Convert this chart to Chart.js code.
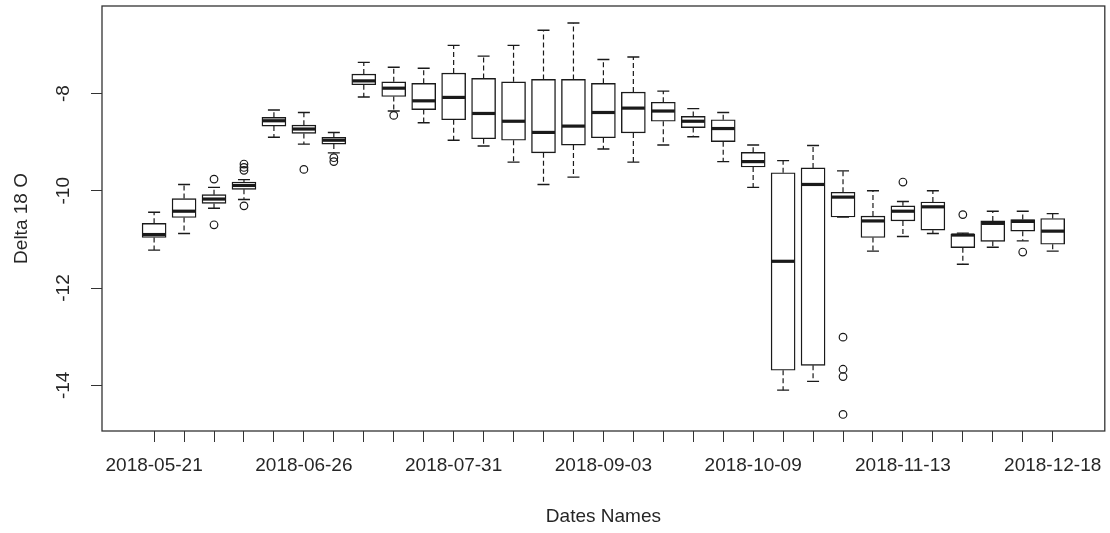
<!DOCTYPE html>
<html>
<head>
<meta charset="utf-8">
<script src="https://cdn.jsdelivr.net/npm/chart.js@4.4.1/dist/chart.umd.min.js"></script>
<style>
  html, body { margin: 0; padding: 0; background: #ffffff; }
  #wrap { width: 1110px; height: 533px; }
</style>
</head>
<body>
<div id="wrap"><canvas id="c" width="1110" height="533"></canvas></div>
<script>
// Tick labels (one per box; R only printed those that fit)
const tickLabels = ['2018-05-21','','','','','2018-06-26','','','','','2018-07-31','','','','','2018-09-03','','','','','2018-10-09','','','','','2018-11-13','','','','','2018-12-18'];
const yTicks = [-14, -12, -10, -8];

const whiskerHigh = [-10.44,-9.87,-9.93,-9.77,-8.34,-8.39,-8.80,-7.36,-7.46,-7.48,-7.01,-7.23,-7.01,-6.70,-6.55,-7.30,-7.25,-7.95,-8.31,-8.39,-9.06,-9.38,-9.07,-9.59,-10.00,-10.22,-10.00,-10.87,-10.42,-10.42,-10.47];
const q3          = [-10.67,-10.16,-10.08,-9.82,-8.49,-8.65,-8.90,-7.60,-7.76,-7.79,-7.58,-7.69,-7.76,-7.71,-7.71,-7.79,-7.97,-8.18,-8.47,-8.54,-9.21,-9.63,-9.53,-10.03,-10.52,-10.31,-10.23,-10.89,-10.62,-10.59,-10.57];
const median      = [-10.90,-10.42,-10.17,-9.89,-8.56,-8.73,-8.96,-7.74,-7.89,-8.15,-8.08,-8.41,-8.57,-8.80,-8.67,-8.39,-8.30,-8.36,-8.57,-8.72,-9.40,-11.45,-9.87,-10.13,-10.62,-10.42,-10.33,-10.91,-10.67,-10.63,-10.83];
const q1          = [-10.96,-10.55,-10.26,-9.97,-8.67,-8.82,-9.04,-7.82,-8.06,-8.33,-8.54,-8.93,-8.96,-9.22,-9.06,-8.91,-8.81,-8.57,-8.70,-8.99,-9.51,-13.69,-13.59,-10.54,-10.96,-10.62,-10.81,-11.17,-11.04,-10.83,-11.10];
const whiskerLow  = [-11.22,-10.88,-10.36,-10.18,-8.90,-9.04,-9.22,-8.07,-8.36,-8.60,-8.96,-9.08,-9.41,-9.87,-9.72,-9.14,-9.41,-9.06,-8.89,-9.40,-9.93,-14.10,-13.92,-10.54,-11.24,-10.94,-10.88,-11.51,-11.16,-11.03,-11.24];
const outliers    = [[],[],[-9.76,-10.70],[-9.45,-9.52,-9.58,-10.31],[],[-9.56],[-9.32,-9.40],[],[-8.45],[],[],[],[],[],[],[],[],[],[],[],[],[],[],[-13.01,-13.67,-13.82,-14.60],[],[-9.82],[],[-10.49],[],[-11.26],[]];

const positions = tickLabels.map((_, i) => i + 1);
const boxData = positions.map((p, i) => ({ x: p, y: [q1[i], q3[i]] }));
const outlierData = [];
outliers.forEach((arr, i) => arr.forEach(v => outlierData.push({ x: positions[i], y: v })));

const FONT = "'Liberation Sans', Arial, sans-serif";
const TXT = '#262626';
const LINE = '#1a1a1a';

const boxExtras = {
  id: 'boxExtras',
  afterDatasetsDraw(chart) {
    const { ctx, scales: { x, y } } = chart;
    const meta = chart.getDatasetMeta(0);
    ctx.save();
    positions.forEach((p, i) => {
      const px = x.getPixelForValue(p);
      const half = meta.data[i] ? meta.data[i].width / 2 : 12;
      const capHalf = half / 2;
      ctx.strokeStyle = LINE;
      // whiskers (dashed)
      ctx.lineWidth = 1.2;
      ctx.setLineDash([5, 3]);
      ctx.beginPath();
      ctx.moveTo(px, y.getPixelForValue(q3[i]));
      ctx.lineTo(px, y.getPixelForValue(whiskerHigh[i]));
      ctx.moveTo(px, y.getPixelForValue(q1[i]));
      ctx.lineTo(px, y.getPixelForValue(whiskerLow[i]));
      ctx.stroke();
      ctx.setLineDash([]);
      // caps
      ctx.lineWidth = 1.4;
      ctx.beginPath();
      const yh = y.getPixelForValue(whiskerHigh[i]);
      const yl = y.getPixelForValue(whiskerLow[i]);
      ctx.moveTo(px - capHalf, yh); ctx.lineTo(px + capHalf, yh);
      ctx.moveTo(px - capHalf, yl); ctx.lineTo(px + capHalf, yl);
      ctx.stroke();
      // median
      ctx.lineWidth = 3.2;
      ctx.beginPath();
      const ym = y.getPixelForValue(median[i]);
      ctx.moveTo(px - half + 0.5, ym); ctx.lineTo(px + half - 0.5, ym);
      ctx.stroke();
    });
    // plot frame
    const a = chart.chartArea;
    ctx.lineWidth = 1.3;
    ctx.strokeStyle = '#333333';
    ctx.strokeRect(a.left, a.top, a.right - a.left, a.bottom - a.top);
    ctx.restore();
  }
};

new Chart(document.getElementById('c'), {
  data: {
    datasets: [
      {
        type: 'bar',
        data: boxData,
        backgroundColor: '#ffffff',
        borderColor: LINE,
        borderWidth: 1.4,
        borderSkipped: false,
        barThickness: 24,
        grouped: false,
        order: 2
      },
      {
        type: 'scatter',
        data: outlierData,
        pointStyle: 'circle',
        pointRadius: 3.8,
        pointBackgroundColor: 'rgba(255,255,255,0)',
        pointBorderColor: LINE,
        pointBorderWidth: 1.2,
        showLine: false,
        order: 1
      }
    ]
  },
  options: {
    responsive: false,
    animation: false,
    events: [],
    layout: { padding: { left: 0, top: 6, right: 5, bottom: 0 } },
    plugins: { legend: { display: false }, tooltip: { enabled: false }, title: { display: false } },
    scales: {
      x: {
        type: 'linear',
        offset: false,
        min: -0.74,
        max: 32.74,
        afterBuildTicks: (s) => { s.ticks = positions.map(v => ({ value: v })); },
        afterFit: (s) => { s.height = 102; s.paddingLeft = 0; s.paddingRight = 0; },
        border: { display: false },
        grid: { offset: false, drawOnChartArea: false, drawTicks: true, tickLength: 11, color: '#333333', lineWidth: 1 },
        ticks: {
          autoSkip: false, maxRotation: 0, minRotation: 0, padding: 12,
          color: TXT, font: { family: FONT, size: 19 },
          callback: (v) => tickLabels[Math.round(v) - 1] || ''
        },
        title: {
          display: true, text: 'Dates Names', color: TXT,
          font: { family: FONT, size: 19 }, padding: { top: 0, bottom: 5 }
        }
      },
      y: {
        type: 'linear',
        min: -14.94,
        max: -6.20,
        afterBuildTicks: (s) => { s.ticks = yTicks.map(v => ({ value: v })); },
        afterFit: (s) => { s.width = 102; s.paddingTop = 0; s.paddingBottom = 0; },
        border: { display: false },
        grid: { drawOnChartArea: false, drawTicks: true, tickLength: 11, color: '#333333', lineWidth: 1 },
        ticks: {
          minRotation: 90, maxRotation: 90, crossAlign: 'center', padding: 14,
          color: TXT, font: { family: FONT, size: 19 },
          callback: (v) => String(v)
        },
        title: {
          display: true, text: 'Delta 18 O', color: TXT,
          font: { family: FONT, size: 19 }, padding: { top: 10, bottom: 0 }
        }
      }
    }
  },
  plugins: [boxExtras]
});
</script>
</body>
</html>
